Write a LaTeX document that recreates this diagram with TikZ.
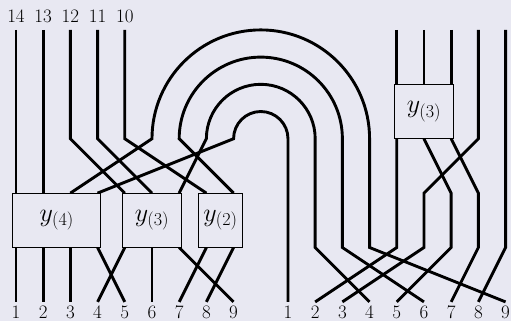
\RequirePackage{fix-cm}
\documentclass[tikz,border=0pt]{standalone}
\definecolor{bg}{RGB}{232,232,242}
\begin{document}
\begin{tikzpicture}[x=27.2pt,y=27.2pt,
  strand/.style={line width=2.9pt},
  box/.style={draw, line width=1.1pt, fill=bg, inner sep=0pt, minimum height=54.4pt,
    font=\fontsize{26}{30}\selectfont},
  lab/.style={font=\fontsize{19}{22}\selectfont, anchor=base, inner sep=0pt}]
\fill[bg] (-0.588,-0.70) rectangle (18.2,11.10);
\useasboundingbox (-0.588,-0.70) rectangle (18.2,11.10);

% left inputs
\draw[strand] (0,10) -- (0,4);
\draw[strand] (1,10) -- (1,4);
\draw[strand] (2,10) -- (2,6) -- (4,4);
\draw[strand] (3,10) -- (3,6) -- (5,4);
\draw[strand] (4,10) -- (4,6) -- (7,4);
% arcs
\draw[strand] (2,4) -- (5,6) arc[start angle=180,end angle=0,radius=4] -- (13,2) -- (18,0);
\draw[strand] (8,4) -- (6,6) arc[start angle=180,end angle=0,radius=3] -- (12,2) -- (15,0);
\draw[strand] (6,4) -- (7,6) arc[start angle=180,end angle=0,radius=2] -- (11,2) -- (13,0);
\draw[strand] (3,4) -- (8,6) arc[start angle=180,end angle=0,radius=1] -- (10,0);
% left outputs
\draw[strand] (0,2) -- (0,0);
\draw[strand] (1,2) -- (1,0);
\draw[strand] (2,2) -- (2,0);
\draw[strand] (3,2) -- (4,0);
\draw[strand] (4,2) -- (3,0);
\draw[strand] (5,2) -- (5,0);
\draw[strand] (6,2) -- (8,0);
\draw[strand] (7,2) -- (6,0);
\draw[strand] (8,2) -- (7,0);
% right part
\draw[strand] (14,10) -- (14,8);
\draw[strand] (15,10) -- (15,8);
\draw[strand] (16,10) -- (16,8);
\draw[strand] (14,6) -- (14,2) -- (11,0);
\draw[strand] (15,6) -- (16,4) -- (16,2) -- (14,0);
\draw[strand] (16,6) -- (17,4) -- (17,2) -- (16,0);
\draw[strand] (17,10) -- (17,6) -- (15,4) -- (15,2) -- (12,0);
\draw[strand] (18,10) -- (18,2) -- (17,0);

% boxes
\node[box, minimum width=88.1pt] (b4) at (1.5,3) {$y_{(4)}$};
\node[box, minimum width=59.8pt] (b3) at (5,3) {$y_{(3)}$};
\node[box, minimum width=43.2pt] (b2) at (7.52,3) {$y_{(2)}$};
\node[box, minimum width=59.8pt] (b3r) at (15,7) {$y_{(3)}$};

% top labels
\node[lab] (t14) at (0,10.28) {14};
\node[lab] (t13) at (1,10.28) {13};
\node[lab] (t12) at (2,10.28) {12};
\node[lab] (t11) at (3,10.28) {11};
\node[lab] (t10) at (4,10.28) {10};

% bottom labels
\foreach \i in {1,...,9} {
  \node[lab] (l\i) at (\i-1,-0.60) {\i};
  \node[lab] (r\i) at (\i+9,-0.60) {\i};
}
\end{tikzpicture}
\end{document}
